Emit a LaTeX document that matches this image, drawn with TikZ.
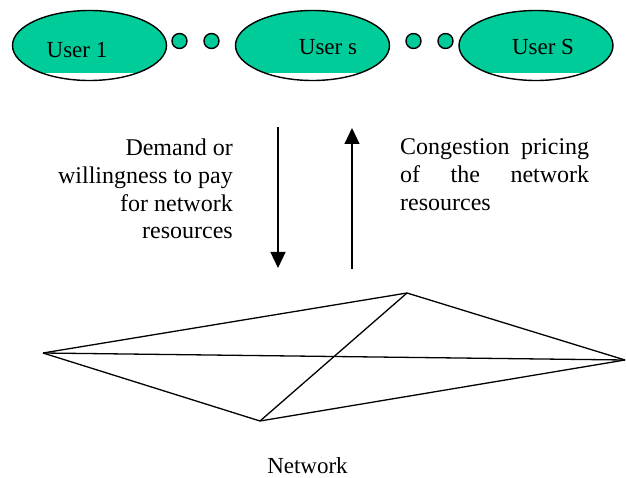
\documentclass[tikz,border=0pt]{standalone}
\usepackage{fontspec}
\setmainfont{Liberation Serif}
\usetikzlibrary{shapes.geometric,arrows.meta}
\definecolor{usergreen}{RGB}{0,204,153}
\hbadness=10000
\hyphenpenalty=10000
\exhyphenpenalty=10000

\begin{document}
\begin{tikzpicture}[x=1pt,y=-1pt]
  \tikzset{userstyle/.style={draw,ellipse,line width=1.4pt,minimum width=154pt,minimum height=70pt,inner sep=0pt,
      path picture={\fill[usergreen] (path picture bounding box.north west) rectangle ([yshift=7.5pt]path picture bounding box.south east);}}}
  \tikzset{dotstyle/.style={draw,circle,line width=1.4pt,fill=usergreen,minimum size=15pt,inner sep=0pt}}
  \tikzset{labelstyle/.style={font=\fontsize{23}{27.6}\selectfont,inner sep=0pt}}
  \tikzset{parstyle/.style={font=\fontsize{24}{27.8}\selectfont,inner sep=0pt}}
  \tikzset{flowarrow/.style={line width=1.2pt,-{Triangle[width=15pt,length=16pt]}}}
  \useasboundingbox (0,0) rectangle (626,478);
  \node[userstyle] (u1) at (89.5,45.5) {};
  \node[userstyle] (us) at (312.5,45.5) {};
  \node[userstyle] (uS) at (536,45.5) {};
  \node[labelstyle,anchor=base] (t1) at (77,58) {User 1};
  \node[labelstyle,anchor=base] (ts) at (328,55) {User s};
  \node[labelstyle,anchor=base] (tS) at (543,55) {User S};
  \node[dotstyle] (d1) at (179.5,41) {};
  \node[dotstyle] (d2) at (211.5,41) {};
  \node[dotstyle] (d3) at (413.5,41) {};
  \node[dotstyle] (d4) at (445.5,41) {};
  \node[parstyle,align=right,anchor=north east] (demand) at (233,138.6)
    {Demand or\\willingness to pay\\for network\\resources};
  \node[parstyle,text width=189pt,align=justify,anchor=north west] (pricing) at (400,138.6)
    {Congestion pricing of the network resources};
  \coordinate (dtop) at (278,127);
  \coordinate (dbot) at (278,268);
  \coordinate (ubot) at (352,269);
  \coordinate (utop) at (352,128);
  \draw[flowarrow] (dtop) -- (dbot);
  \draw[flowarrow] (ubot) -- (utop);
  \coordinate (nl) at (43,353);
  \coordinate (nt) at (407,293);
  \coordinate (nb) at (260,421);
  \coordinate (nr) at (625,360);
  \draw[line width=1.3pt] (nl) -- (nt);
  \draw[line width=1.3pt] (nt) -- (nr);
  \draw[line width=1.3pt] (nr) -- (nb);
  \draw[line width=1.3pt] (nb) -- (nl);
  \draw[line width=1.3pt] (nl) -- (nr);
  \draw[line width=1.3pt] (nb) -- (nt);
  \node[labelstyle,anchor=base] (net) at (307.5,473) {Network};
\end{tikzpicture}
\end{document}
